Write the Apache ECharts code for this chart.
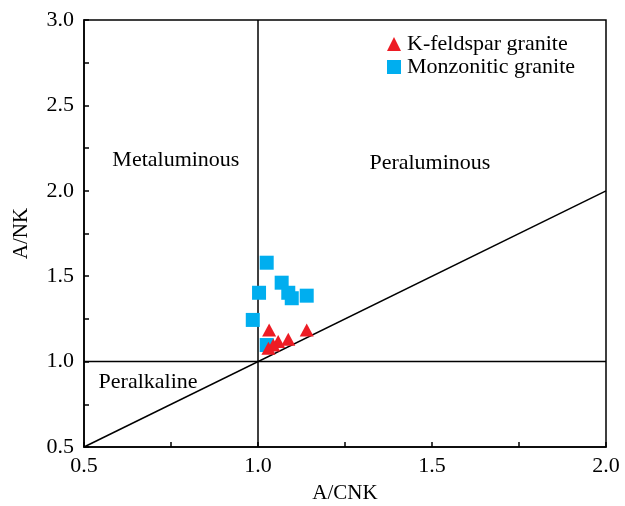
<!DOCTYPE html>
<html>
<head>
<meta charset="utf-8">
<script src="https://cdn.jsdelivr.net/npm/echarts@6/dist/echarts.min.js"></script>
<style>html,body{margin:0;padding:0;background:#fff;}#c{width:625px;height:506px;}</style>
</head>
<body>
<div id="c"></div>
<script>
// Data
const kfeldspar = [[1.032,1.185],[1.140,1.185],[1.087,1.131],[1.058,1.117],[1.044,1.097],[1.030,1.078]];
const monzonitic = [[1.025,1.579],[1.068,1.462],[1.087,1.403],[1.097,1.371],[1.140,1.386],[1.003,1.403],[0.985,1.244],[1.025,1.097]];
const diagonalLine = [[0.5,0.5],[2.0,2.0]];
const horizontalLine = [[0.5,1.0],[2.0,1.0]];
const verticalLine = [[1.0,0.5],[1.0,3.0]];
const regionLabels = [
  {name:'Metaluminous', value:[0.764,2.18]},
  {name:'Peraluminous', value:[1.494,2.163]},
  {name:'Peralkaline', value:[0.684,0.881]}
];
const seriesNames = ['K-feldspar granite','Monzonitic granite'];

const FONT = '"Liberation Serif","DejaVu Serif",serif';
const chart = echarts.init(document.getElementById('c'), null, {renderer:'canvas'});
const lineStyle = {color:'#000', width:1.5};
const fmt = v => (Math.abs(v*2 - Math.round(v*2)) < 1e-6) ? v.toFixed(1) : '';
chart.setOption({
  animation:false,
  backgroundColor:'#fff',
  grid:{left:84, right:19, top:20, bottom:59, containLabel:false, outerBoundsMode:'none',
        show:true, borderColor:'#000', borderWidth:1.5, backgroundColor:'transparent'},
  legend:{
    orient:'vertical', left:382, top:28, itemGap:1, itemWidth:14, itemHeight:14,
    textStyle:{fontFamily:FONT, fontSize:22, color:'#000', padding:[0,0,0,1]},
    data:[{name:seriesNames[0], icon:'triangle'},{name:seriesNames[1], icon:'rect'}]
  },
  xAxis:{
    type:'value', min:0.5, max:2.0, interval:0.25,
    name:'A/CNK', nameLocation:'middle', nameGap:36,
    nameTextStyle:{fontFamily:FONT, fontSize:21, color:'#000'},
    axisLine:{show:true, lineStyle:{color:'#000', width:1.5}},
    axisTick:{show:true, inside:true, length:5, lineStyle:{color:'#000', width:1.5}},
    axisLabel:{formatter:fmt, fontFamily:FONT, fontSize:22, color:'#000', margin:8},
    splitLine:{show:false}
  },
  yAxis:{
    type:'value', min:0.5, max:3.0, interval:0.25,
    name:'A/NK', nameLocation:'middle', nameGap:52,
    nameTextStyle:{fontFamily:FONT, fontSize:21, color:'#000'},
    axisLine:{show:true, lineStyle:{color:'#000', width:1.5}},
    axisTick:{show:true, inside:true, length:5, lineStyle:{color:'#000', width:1.5}},
    axisLabel:{formatter:fmt, fontFamily:FONT, fontSize:22, color:'#000', margin:10},
    splitLine:{show:false}
  },
  series:[
    {type:'line', data:diagonalLine, symbol:'none', silent:true, lineStyle:lineStyle, z:1},
    {type:'line', data:horizontalLine, symbol:'none', silent:true, lineStyle:lineStyle, z:1},
    {type:'line', data:verticalLine, symbol:'none', silent:true, lineStyle:lineStyle, z:1},
    {type:'scatter', data:regionLabels, symbolSize:0, silent:true, z:1,
      itemStyle:{opacity:1},
      label:{show:true, position:'inside', formatter:p=>p.name, fontFamily:FONT, fontSize:22, color:'#000', opacity:1}},
    {name:seriesNames[1], type:'scatter', data:monzonitic, symbol:'rect', symbolSize:14,
      itemStyle:{color:'#00AEEF', opacity:1}, z:3},
    {name:seriesNames[0], type:'scatter', data:kfeldspar, symbol:'triangle', symbolSize:[14,13],
      itemStyle:{color:'#ED1C24', opacity:1}, z:4}
  ]
});
</script>
</body>
</html>
